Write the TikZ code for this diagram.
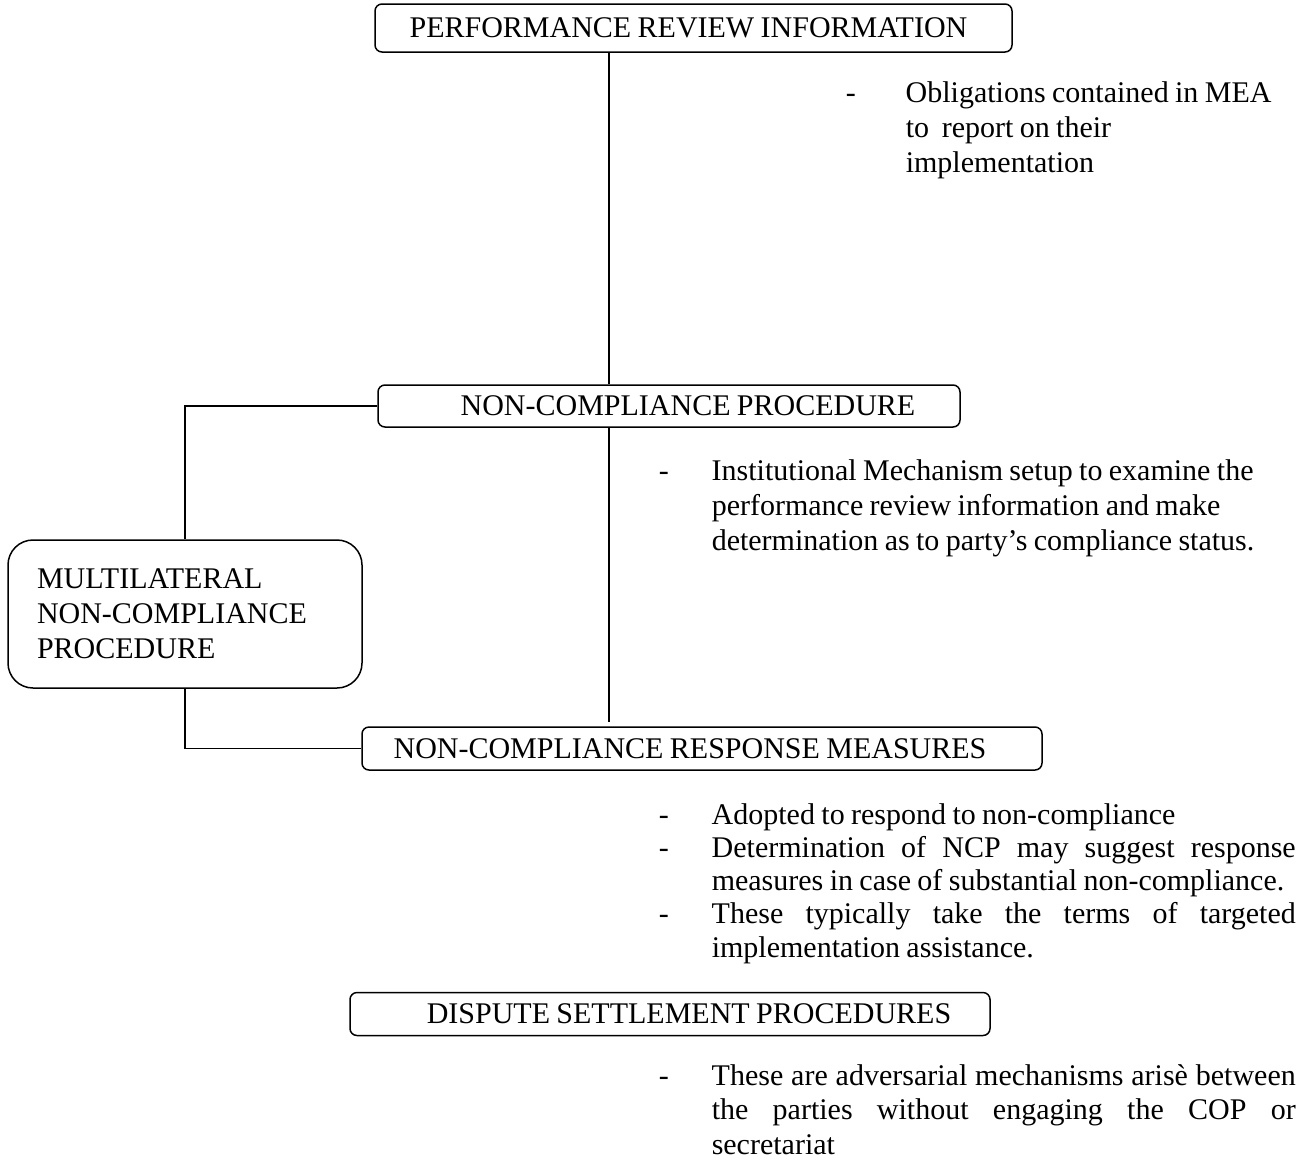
\documentclass[tikz,border=0pt]{standalone}
\usepackage{fontspec}
\setmainfont{Liberation Serif}[WordSpace=0.85]
\usepackage{tikz}
\usetikzlibrary{positioning,calc}

\newcommand{\dashitem}[1]{\par\hangindent=#1\hangafter=1\noindent\makebox[#1][l]{-}}
\hyphenpenalty=10000

\begin{document}
\begin{tikzpicture}[x=1pt, y=-1pt, line width=1.5pt,
	box/.style={draw, rounded corners=7pt, inner sep=0pt, font=\fontsize{30}{35}\selectfont},
	note/.style={anchor=north west, inner sep=0pt, align=flush left, font=\fontsize{30}{35}\selectfont}]
	
	\useasboundingbox (0,0) rectangle (1308,1165);
	
	\node [box, minimum width=637pt, minimum height=48pt] (pri) at (693.5,28) {PERFORMANCE REVIEW INFORMATION\hspace*{10pt}};
	\node [box, minimum width=582pt, minimum height=42pt] (ncp) at (669,406) {\hspace*{38pt}NON-COMPLIANCE PROCEDURE};
	\node [box, rounded corners=25pt, text width=296pt, inner xsep=29pt, minimum height=148pt, align=left] (mnc) at (185,614) {MULTILATERAL\\NON-COMPLIANCE\\PROCEDURE};
	\node [box, minimum width=680pt, minimum height=43pt] (ncrm) at (702,748.5) {NON-COMPLIANCE RESPONSE MEASURES\hspace*{24pt}};
	\node [box, minimum width=640pt, minimum height=43pt] (dsp) at (670,1014) {\hspace*{38pt}DISPUTE SETTLEMENT PROCEDURES};
	
	\node [note, text width=460pt] (obl) at (845,67) {\dashitem{60pt}Obligations contained in MEA\newline to\ \ report on their\newline implementation\par};
	\node [note, text width=640pt] (inst) at (658,445) {\dashitem{53pt}Institutional Mechanism setup to examine the\newline performance review information and make\newline determination as to party’s compliance status.\par};
	\node [note, text width=637pt, align=justify, font=\fontsize{30}{33.3}\selectfont] (adopt) at (658,790) {\dashitem{53pt}Adopted to respond to non-compliance \dashitem{53pt}Determination of NCP may suggest response\linebreak measures in case of substantial non-compliance. \dashitem{53pt}These typically take the terms of targeted\linebreak implementation assistance.\par};
	\node [note, text width=637pt, align=justify, font=\fontsize{30}{34.5}\selectfont] (adv) at (658,1050) {\dashitem{53pt}These are adversarial mechanisms arisè between\linebreak the parties without engaging the COP or\linebreak secretariat\par};
	
	\coordinate (spine) at (609,0);
	\draw (pri.south -| spine) -- (ncp.north -| spine);
	\draw [shorten >=4pt] (ncp.south -| spine) -- (ncrm.north -| spine);
	\draw (ncp.west) -| (mnc.north);
	\draw (mnc.south) |- (ncrm.west);
\end{tikzpicture}
\end{document}
